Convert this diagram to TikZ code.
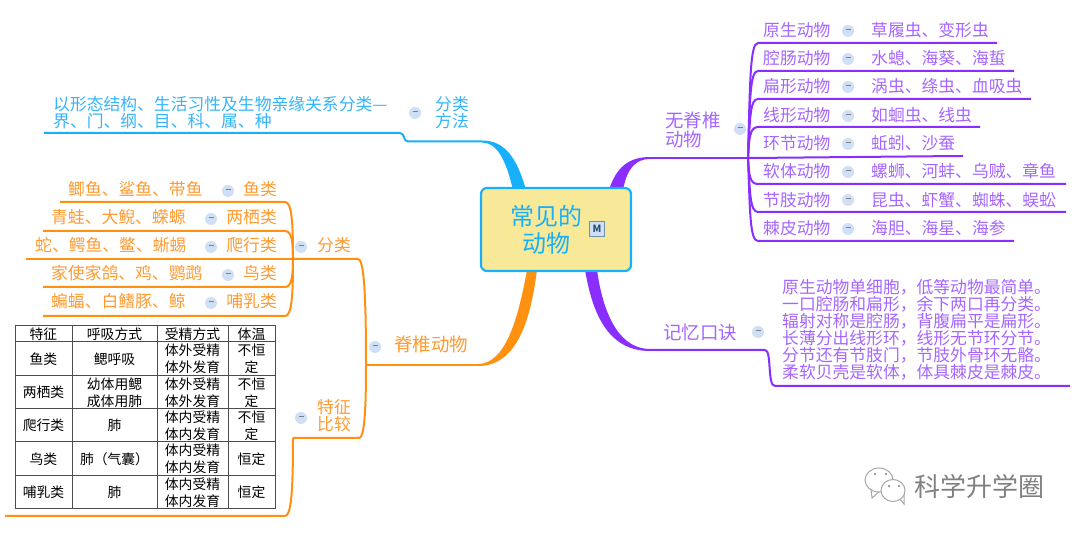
\documentclass[tikz,border=0pt]{standalone}
\usepackage{fontspec}
\setmainfont{Noto Sans CJK SC}
\definecolor{bluebranch}{HTML}{18B0FA}
\definecolor{bluetext}{HTML}{35B4FA}
\definecolor{orangebranch}{HTML}{FF9010}
\definecolor{orangetext}{HTML}{FF9A30}
\definecolor{purplebranch}{HTML}{8A2EFF}
\definecolor{purpletext}{HTML}{A566FF}
\definecolor{rootfill}{HTML}{F8E999}
\definecolor{btnfill}{HTML}{CFDFF6}
\definecolor{markedge}{HTML}{6E8FB0}
\definecolor{marktext}{HTML}{2F4F6F}
\tikzset{
  x=1pt,y=-1pt,
  bluetxt/.style={text=bluetext,inner sep=0pt,align=left,font=\fontsize{16.8}{17}\selectfont},
  orangetxt/.style={text=orangetext,inner sep=0pt,align=left,font=\fontsize{16.8}{17}\selectfont},
  purpletxt/.style={text=purpletext,inner sep=0pt,align=left,font=\fontsize{16.8}{17}\selectfont},
  bigtxt/.style={font=\fontsize{18.5}{19}\selectfont},
  cell/.style={inner sep=0pt,align=center,text=black,font=\fontsize{13.8}{17}\selectfont},
  btn/.style={circle,fill=btnfill,inner sep=0pt,minimum size=12pt,text=black!50},
  blueline/.style={draw=bluebranch,line width=2pt},
  orangeline/.style={draw=orangebranch,line width=2pt},
  purpleline/.style={draw=purplebranch,line width=2pt},
  gridline/.style={draw=black!70,line width=1pt},
}
\newcommand{\btnmark}{\rule[2.5pt]{5pt}{1pt}}
\begin{document}
\begin{tikzpicture}
    \useasboundingbox (0,0) rectangle (1080,534);

    % Points of the branches
    \coordinate (BL) at (44,133);
    \coordinate (BM) at (400,133);
    \coordinate (BN) at (408,141.5);
    \coordinate (BR) at (482,141.5);
    \coordinate (PU) at (650,158);
    \coordinate (PT) at (748,158);
    \coordinate (PD) at (650,350);
    \coordinate (PE) at (765,350);
    \coordinate (PF) at (775,386);
    \coordinate (PG) at (1070,386);
    \coordinate (OR) at (478,365);
    \coordinate (OT) at (366,365);
    \coordinate (OS) at (358,259);
    \coordinate (FL) at (293,259);
    \coordinate (TB) at (359,438);
    \coordinate (TC) at (293,438);
    \coordinate (TD) at (285,516);
    \coordinate (TE) at (5,516);

    % Tapered roots of the four branches
    \fill[bluebranch] (526,190) .. controls (517,158) and (505,140.5) .. (482,140.5)
        -- (482,142.5) .. controls (497,142.5) and (506,160) .. (513,190) -- cycle;
    \fill[purplebranch] (609,190) .. controls (616,168) and (628,157) .. (650,157)
        -- (650,159) .. controls (636,159) and (627,168) .. (623,190) -- cycle;
    \fill[purplebranch] (585,270) .. controls (592,310) and (606,351) .. (650,351)
        -- (650,349) .. controls (622,349) and (604,320) .. (597,270) -- cycle;
    \fill[orangebranch] (537,270) .. controls (530,325) and (515,366) .. (478,366)
        -- (478,364) .. controls (505,364) and (518,320) .. (527,270) -- cycle;

    % Central topic
    \node[draw=bluebranch,fill=rootfill,line width=2.2pt,rounded corners=6pt,
        minimum width=150pt,minimum height=83pt] (root) at (556,229.5) {};
    \node[text=bluebranch,align=center,inner sep=0pt,font=\fontsize{24}{27}\selectfont]
        (rootlabel) at (546,230) {常见的\\动物};
    \node[draw=markedge,fill=btnfill,line width=1pt,minimum size=15pt,inner sep=0pt,
        text=marktext,font=\fontsize{10}{10}\bfseries\selectfont] (rootmark) at (597,229) {M};

    % Classification method
    \draw[blueline] (BL) -- (BM) .. controls +(5,0) and +(-5,0) .. (BN) -- (BR);
    \node[bluetxt,anchor=west] (methodtext) at (53,112.5) {以形态结构、生活习性及生物亲缘关系分类—\\界、门、纲、目、科、属、种};
    \node[btn] (methodbtn) at (415,113) {\btnmark};
    \node[bluetxt] (method) at (452,113) {分类\\方法};

    % Vertebrates
    \draw[orangeline] (OR) -- (OT);
    \draw[orangeline] (FL) -- (OS) .. controls +(6,0) and +(0,-70) .. (OT);
    \draw[orangeline] (OT) .. controls +(0,50) and +(5,0) .. (TB) -- (TC);
    \draw[orangeline] (TC) .. controls +(0,55) and +(6,0) .. (TD) -- (TE);
    \node[orangetxt,bigtxt,anchor=west] (verte) at (394,344) {脊椎动物};
    \node[btn] (vertebtn) at (375,347) {\btnmark};
    \node[orangetxt,anchor=west] (classes) at (317,245) {分类};
    \node[btn] (classesbtn) at (301,247) {\btnmark};
    \node[orangetxt,anchor=west] (compare) at (317,416) {特征\\比较};
    \node[btn] (comparebtn) at (301,418) {\btnmark};

    % Five classes of vertebrates
    \coordinate (fishL) at (60,202);
    \coordinate (fishR) at (285,202);
    \coordinate (amphL) at (43,231);
    \coordinate (amphR) at (285,231);
    \coordinate (reptL) at (26,259);
    \coordinate (birdL) at (43,287);
    \coordinate (birdR) at (285,287);
    \coordinate (mammL) at (43,316);
    \coordinate (mammR) at (285,316);
    \draw[orangeline] (fishL) -- (fishR) .. controls +(7,0) and +(0,-35) .. (FL);
    \draw[orangeline] (amphL) -- (amphR) .. controls +(7,0) and +(0,-16) .. (FL);
    \draw[orangeline] (reptL) -- (FL);
    \draw[orangeline] (birdL) -- (birdR) .. controls +(7,0) and +(0,16) .. (FL);
    \draw[orangeline] (mammL) -- (mammR) .. controls +(7,0) and +(0,35) .. (FL);

    \node[orangetxt,anchor=east] (fish) at (277,189) {鱼类};
    \node[btn] (fishbtn) at (228,191) {\btnmark};
    \node[orangetxt,anchor=west] (fishlist) at (68,189) {鲫鱼、鲨鱼、带鱼};
    \node[orangetxt,anchor=east] (amph) at (277,217) {两栖类};
    \node[btn] (amphbtn) at (211,219) {\btnmark};
    \node[orangetxt,anchor=west] (amphlist) at (51,217) {青蛙、大鲵、蝾螈};
    \node[orangetxt,anchor=east] (rept) at (277,245) {爬行类};
    \node[btn] (reptbtn) at (211,247) {\btnmark};
    \node[orangetxt,anchor=west] (reptlist) at (35,245) {蛇、鳄鱼、鳖、蜥蜴};
    \node[orangetxt,anchor=east] (bird) at (277,273) {鸟类};
    \node[btn] (birdbtn) at (228,275) {\btnmark};
    \node[orangetxt,anchor=west] (birdlist) at (51,273) {家使家鸽、鸡、鹦鹉};
    \node[orangetxt,anchor=east] (mamm) at (277,301) {哺乳类};
    \node[btn] (mammbtn) at (211,303) {\btnmark};
    \node[orangetxt,anchor=west] (mammlist) at (51,301) {蝙蝠、白鳍豚、鲸};

    % Comparison table
    \draw[gridline] (15,326) rectangle (275,509);
    \draw[gridline] (15,342) -- (275,342);
    \draw[gridline] (15,376) -- (275,376);
    \draw[gridline] (15,409) -- (275,409);
    \draw[gridline] (15,442) -- (275,442);
    \draw[gridline] (15,476) -- (275,476);
    \draw[gridline] (72,326) -- (72,509);
    \draw[gridline] (157,326) -- (157,509);
    \draw[gridline] (228,326) -- (228,509);

    \node[cell] (h1) at (43.5,334) {特征};
    \node[cell] (h2) at (114.5,334) {呼吸方式};
    \node[cell] (h3) at (192.5,334) {受精方式};
    \node[cell] (h4) at (251.5,334) {体温};
    \node[cell] (a1) at (43.5,359) {鱼类};
    \node[cell] (a2) at (114.5,359) {鳃呼吸};
    \node[cell] (a3) at (192.5,359) {体外受精\\体外发育};
    \node[cell] (a4) at (251.5,359) {不恒\\定};
    \node[cell] (b1) at (43.5,392.5) {两栖类};
    \node[cell] (b2) at (114.5,392.5) {幼体用鳃\\成体用肺};
    \node[cell] (b3) at (192.5,392.5) {体外受精\\体外发育};
    \node[cell] (b4) at (251.5,392.5) {不恒\\定};
    \node[cell] (c1) at (43.5,425.5) {爬行类};
    \node[cell] (c2) at (114.5,425.5) {肺};
    \node[cell] (c3) at (192.5,425.5) {体内受精\\体内发育};
    \node[cell] (c4) at (251.5,425.5) {不恒\\定};
    \node[cell] (d1) at (43.5,459) {鸟类};
    \node[cell] (d2) at (114.5,459) {肺（气囊）};
    \node[cell] (d3) at (192.5,459) {体内受精\\体内发育};
    \node[cell] (d4) at (251.5,459) {恒定};
    \node[cell] (e1) at (43.5,492.5) {哺乳类};
    \node[cell] (e2) at (114.5,492.5) {肺};
    \node[cell] (e3) at (192.5,492.5) {体内受精\\体内发育};
    \node[cell] (e4) at (251.5,492.5) {恒定};

    % Invertebrates
    \coordinate (protoL) at (758,43);
    \coordinate (protoR) at (997,43);
    \coordinate (cnidL) at (758,71);
    \coordinate (cnidR) at (1014,71);
    \coordinate (flatL) at (758,99);
    \coordinate (flatR) at (1031,99);
    \coordinate (roundL) at (758,127);
    \coordinate (roundR) at (980,127);
    \coordinate (annelR) at (963,156);
    \coordinate (molluL) at (758,184);
    \coordinate (molluR) at (1066,184);
    \coordinate (arthrL) at (758,212);
    \coordinate (arthrR) at (1066,212);
    \coordinate (echinL) at (758,241);
    \coordinate (echinR) at (1014,241);
    \draw[purpleline] (PU) -- (PT);
    \draw[purpleline] (PT) .. controls +(2,-75) and +(-8,0) .. (protoL) -- (protoR);
    \draw[purpleline] (PT) .. controls +(2,-60) and +(-8,0) .. (cnidL) -- (cnidR);
    \draw[purpleline] (PT) .. controls +(2,-40) and +(-8,0) .. (flatL) -- (flatR);
    \draw[purpleline] (PT) .. controls +(1,-20) and +(-8,0) .. (roundL) -- (roundR);
    \draw[purpleline] (PT) .. controls +(10,0) and +(-10,0) .. (annelR);
    \draw[purpleline] (PT) .. controls +(1,18) and +(-8,0) .. (molluL) -- (molluR);
    \draw[purpleline] (PT) .. controls +(2,35) and +(-8,0) .. (arthrL) -- (arthrR);
    \draw[purpleline] (PT) .. controls +(2,55) and +(-8,0) .. (echinL) -- (echinR);

    \node[purpletxt,bigtxt,anchor=west] (inver) at (665,129.5) {无脊椎\\动物};
    \node[btn] (inverbtn) at (740,129) {\btnmark};

    \node[purpletxt,anchor=west] (proto) at (763,30) {原生动物};
    \node[btn] (protobtn) at (848,31) {\btnmark};
    \node[purpletxt,anchor=west] (protolist) at (871,30) {草履虫、变形虫};
    \node[purpletxt,anchor=west] (cnid) at (763,58) {腔肠动物};
    \node[btn] (cnidbtn) at (848,59) {\btnmark};
    \node[purpletxt,anchor=west] (cnidlist) at (871,58) {水螅、海葵、海蜇};
    \node[purpletxt,anchor=west] (flat) at (763,86) {扁形动物};
    \node[btn] (flatbtn) at (848,87) {\btnmark};
    \node[purpletxt,anchor=west] (flatlist) at (871,86) {涡虫、绦虫、血吸虫};
    \node[purpletxt,anchor=west] (round) at (763,115) {线形动物};
    \node[btn] (roundbtn) at (848,116) {\btnmark};
    \node[purpletxt,anchor=west] (roundlist) at (871,115) {如蛔虫、线虫};
    \node[purpletxt,anchor=west] (annel) at (763,143) {环节动物};
    \node[btn] (annelbtn) at (848,144) {\btnmark};
    \node[purpletxt,anchor=west] (annellist) at (871,143) {蚯蚓、沙蚕};
    \node[purpletxt,anchor=west] (mollu) at (763,171) {软体动物};
    \node[btn] (mollubtn) at (848,172) {\btnmark};
    \node[purpletxt,anchor=west] (mollulist) at (871,171) {螺蛳、河蚌、乌贼、章鱼};
    \node[purpletxt,anchor=west] (arthr) at (763,200) {节肢动物};
    \node[btn] (arthrbtn) at (848,200) {\btnmark};
    \node[purpletxt,anchor=west] (arthrlist) at (871,200) {昆虫、虾蟹、蜘蛛、蜈蚣};
    \node[purpletxt,anchor=west] (echin) at (763,228) {棘皮动物};
    \node[btn] (echinbtn) at (848,229) {\btnmark};
    \node[purpletxt,anchor=west] (echinlist) at (871,228) {海胆、海星、海参};

    % Memory rhyme
    \draw[purpleline] (PD) -- (PE) .. controls +(7,0) and +(-8,0) .. (PF) -- (PG);
    \node[purpletxt,bigtxt,anchor=west] (rhyme) at (663,332) {记忆口诀};
    \node[btn] (rhymebtn) at (758,332) {\btnmark};
    \node[purpletxt,anchor=north west] (rhymetext) at (782,279) {原生动物单细胞，低等动物最简单。\\
        一口腔肠和扁形，余下两口再分类。\\
        辐射对称是腔肠，背腹扁平是扁形。\\
        长薄分出线形环，线形无节环分节。\\
        分节还有节肢门，节肢外骨环无骼。\\
        柔软贝壳是软体，体具棘皮是棘皮。};

    % Watermark
    \draw[black!35,fill=white,line width=1pt] (871,489) -- (872,498) -- (880,491) -- cycle;
    \draw[black!35,fill=white,line width=1pt] (879,480) ellipse (14pt and 12pt);
    \fill[black!50] (875,474) circle (1.2pt);
    \fill[black!50] (886,474) circle (1.2pt);
    \draw[black!35,fill=white,line width=1pt] (899,498) -- (904,504) -- (904,494) -- cycle;
    \draw[black!35,fill=white,line width=1pt] (893,490.5) ellipse (12pt and 11pt);
    \fill[black!50] (889,486) circle (1.2pt);
    \fill[black!50] (899,486) circle (1.2pt);
    \node[text=black!50,inner sep=0pt,anchor=west,font=\fontsize{26}{26}\selectfont]
        (mark) at (914,487) {科学升学圈};
\end{tikzpicture}
\end{document}
